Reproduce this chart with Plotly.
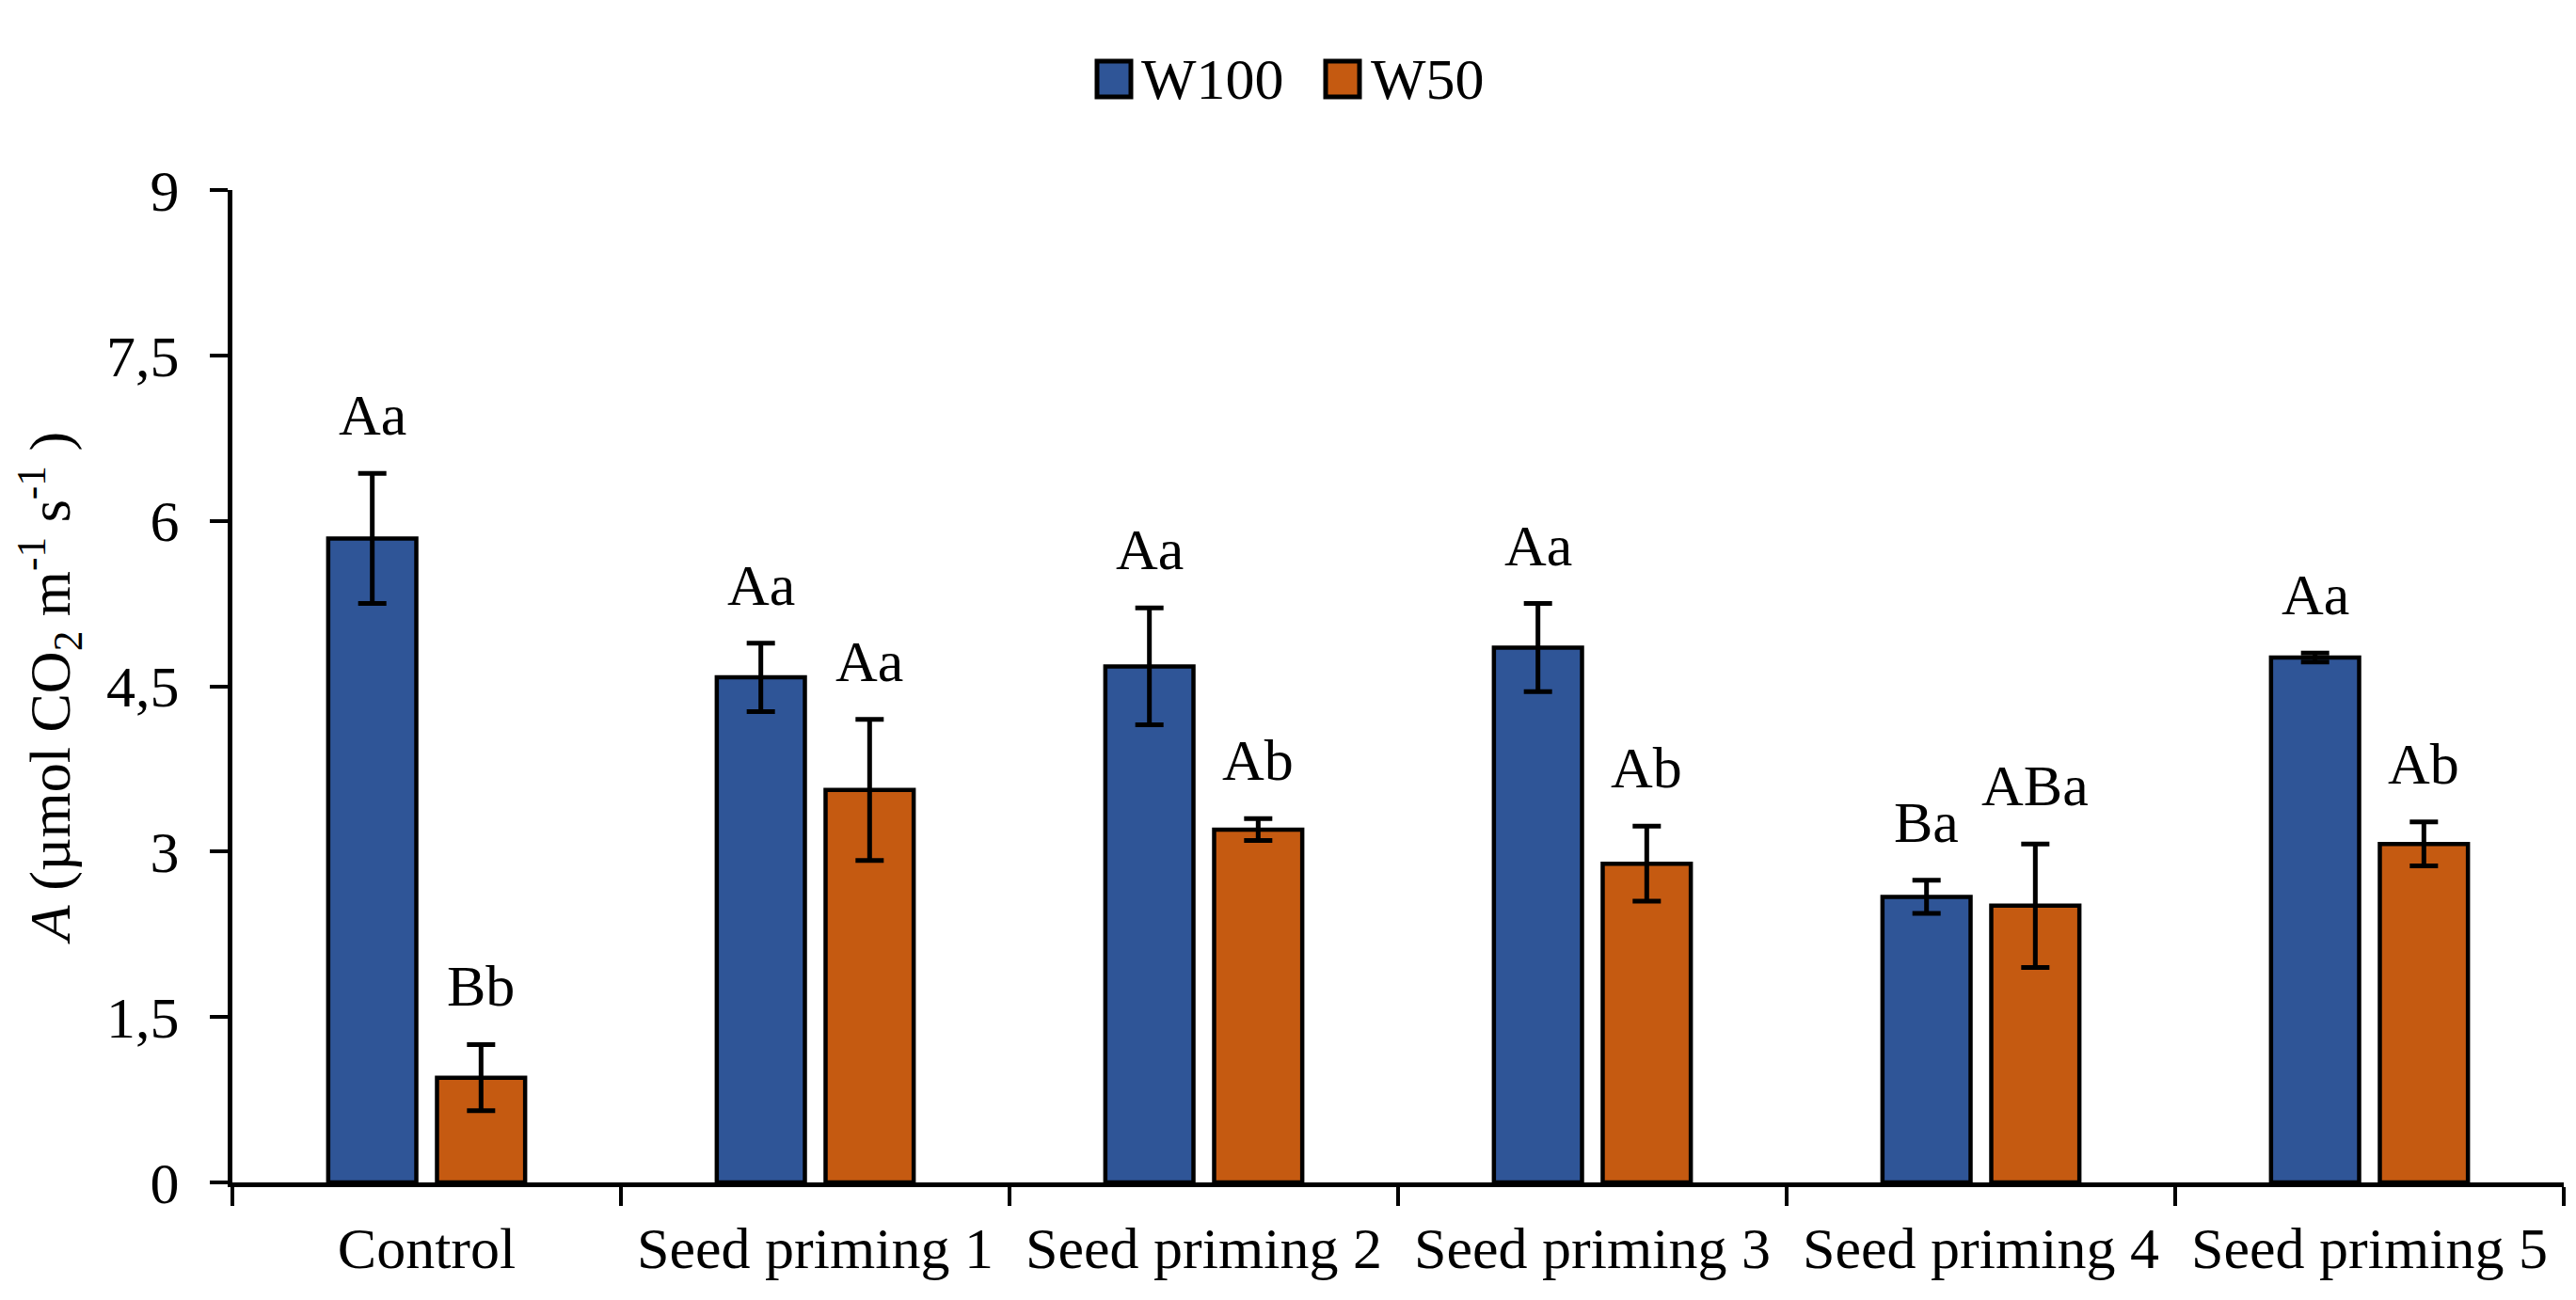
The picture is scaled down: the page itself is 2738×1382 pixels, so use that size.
import plotly.graph_objects as go

# values
categories = ["Control", "Seed priming 1", "Seed priming 2", "Seed priming 3",
              "Seed priming 4", "Seed priming 5"]
w100 = [5.84, 4.58, 4.68, 4.85, 2.59, 4.76]
w100_err = [0.59, 0.31, 0.53, 0.40, 0.15, 0.04]
w50 = [0.95, 3.56, 3.20, 2.89, 2.51, 3.07]
w50_err = [0.30, 0.64, 0.10, 0.34, 0.56, 0.20]
w100_letters = ["Aa", "Aa", "Aa", "Aa", "Ba", "Aa"]
w50_letters = ["Bb", "Aa", "Ab", "Ab", "ABa", "Ab"]
y_ticks = [0, 1.5, 3, 4.5, 6, 7.5, 9]

W, H = 2738, 1382
ML, MR, MT, MB = 239, 21, 194, 133
BARGAP = 0.44
FONT = "Liberation Serif, Times New Roman, serif"
BLUE = "#2F5597"
ORANGE = "#C55A11"

fig = go.Figure()
for name, vals, errs, col in [("W100", w100, w100_err, BLUE),
                              ("W50", w50, w50_err, ORANGE)]:
    fig.add_trace(go.Bar(
        x=categories, y=vals, name=name, showlegend=False,
        marker=dict(color=col, line=dict(color="black", width=4.5)),
        error_y=dict(type="data", array=errs, color="black", thickness=5, width=15),
    ))

# significance letters above the error bars
cat_w = (W - ML - MR) / len(categories)
shift = cat_w * (1 - BARGAP) / 4
annotations = []
for sign, vals, errs, letters in [(-1, w100, w100_err, w100_letters),
                                  (1, w50, w50_err, w50_letters)]:
    for c, v, e, t in zip(categories, vals, errs, letters):
        annotations.append(dict(x=c, y=v + e, text=t, showarrow=False,
                                xshift=sign * shift, yshift=26, yanchor="bottom",
                                font=dict(family=FONT, size=62, color="black")))

# legend drawn by hand so the swatches are as big as in the original
def px_x(p):
    return (p - ML) / (W - ML - MR)

def px_y(p):
    return (H - MB - p) / (H - MT - MB)

shapes = []
for label, col, sx, tx in [("W100", BLUE, 1176, 1203), ("W50", ORANGE, 1419, 1447)]:
    shapes.append(dict(type="rect", xref="paper", yref="paper",
                       xsizemode="pixel", ysizemode="pixel",
                       xanchor=px_x(sx), yanchor=px_y(76),
                       x0=-18, x1=18, y0=-19, y1=19,
                       fillcolor=col, line=dict(color="black", width=5)))
    annotations.append(dict(x=px_x(tx), y=px_y(76), xref="paper", yref="paper",
                            text=label, showarrow=False, xanchor="left", yanchor="middle",
                            font=dict(family=FONT, size=62, color="black")))

fig.update_layout(
    width=W, height=H,
    margin=dict(l=ML, r=MR, t=MT, b=MB),
    paper_bgcolor="white", plot_bgcolor="white",
    barmode="group", bargap=BARGAP, bargroupgap=0.19,
    separators=",.",
    font=dict(family=FONT, size=60, color="black"),
    annotations=annotations, shapes=shapes,
)
fig.update_xaxes(
    showline=True, linecolor="black", linewidth=5,
    ticks="outside", tickson="boundaries", ticklen=20, tickwidth=4, tickcolor="black",
    tickfont=dict(family=FONT, size=62), ticklabelstandoff=12,
    showgrid=False,
)
fig.update_yaxes(
    range=[0, 9], tickvals=y_ticks,
    showline=True, linecolor="black", linewidth=5,
    ticks="outside", ticklen=19, tickwidth=4, tickcolor="black",
    tickfont=dict(family=FONT, size=62), ticklabelstandoff=20,
    showgrid=False, zeroline=False,
    title=dict(text="<i>A</i> (µmol CO<sub>2</sub> m<sup>-1</sup> s<sup>-1</sup> )",
               font=dict(family=FONT, size=62), standoff=20),
)

fig.write_html("out.html")
